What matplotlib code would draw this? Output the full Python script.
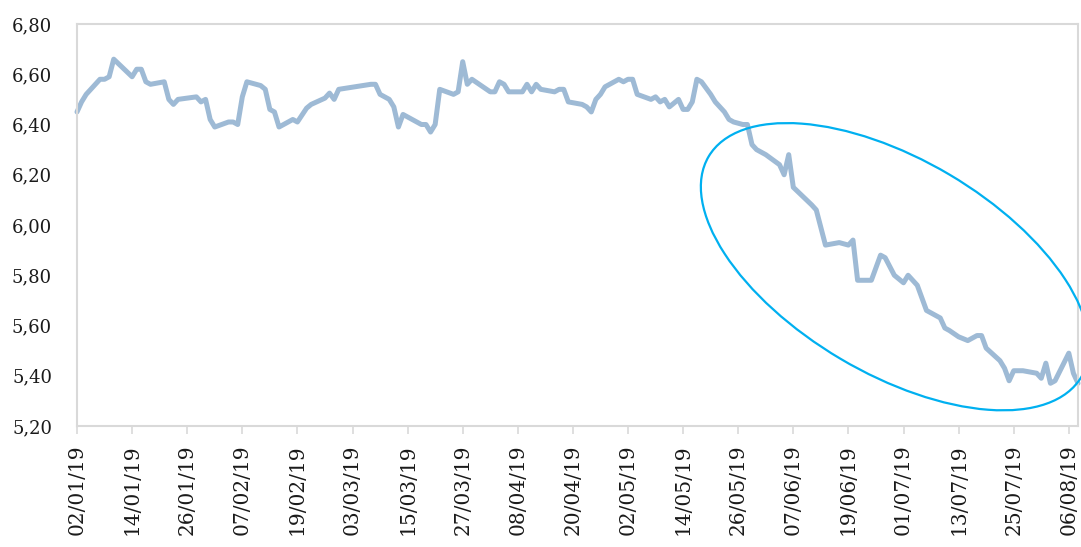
import matplotlib
matplotlib.use('Agg')
import matplotlib.pyplot as plt
import matplotlib.dates as mdates
from matplotlib.patches import Ellipse
import pandas as pd

# series
dates = [
    '2019-01-02', '2019-01-03', '2019-01-04', '2019-01-07', '2019-01-08', '2019-01-09',
    '2019-01-10', '2019-01-14', '2019-01-15', '2019-01-16', '2019-01-17', '2019-01-18',
    '2019-01-21', '2019-01-22', '2019-01-23', '2019-01-24', '2019-01-28', '2019-01-29',
    '2019-01-30', '2019-01-31', '2019-02-01', '2019-02-04', '2019-02-05', '2019-02-06',
    '2019-02-07', '2019-02-08', '2019-02-11', '2019-02-12', '2019-02-13', '2019-02-14',
    '2019-02-15', '2019-02-18', '2019-02-19', '2019-02-21', '2019-02-22', '2019-02-25',
    '2019-02-26', '2019-02-27', '2019-02-28', '2019-03-07', '2019-03-08', '2019-03-09',
    '2019-03-11', '2019-03-12', '2019-03-13', '2019-03-14', '2019-03-18', '2019-03-19',
    '2019-03-20', '2019-03-21', '2019-03-22', '2019-03-25', '2019-03-26', '2019-03-27',
    '2019-03-28', '2019-03-29', '2019-04-02', '2019-04-03', '2019-04-04', '2019-04-05',
    '2019-04-06', '2019-04-09', '2019-04-10', '2019-04-11', '2019-04-12', '2019-04-13',
    '2019-04-16', '2019-04-17', '2019-04-18', '2019-04-19', '2019-04-22', '2019-04-23',
    '2019-04-24', '2019-04-25', '2019-04-26', '2019-04-27', '2019-04-30', '2019-05-01',
    '2019-05-02', '2019-05-03', '2019-05-04', '2019-05-07', '2019-05-08', '2019-05-09',
    '2019-05-10', '2019-05-11', '2019-05-13', '2019-05-14', '2019-05-15', '2019-05-16',
    '2019-05-17', '2019-05-18', '2019-05-20', '2019-05-21', '2019-05-23', '2019-05-24',
    '2019-05-25', '2019-05-27', '2019-05-28', '2019-05-29', '2019-05-30', '2019-06-01',
    '2019-06-04', '2019-06-05', '2019-06-06', '2019-06-07', '2019-06-11', '2019-06-12',
    '2019-06-13', '2019-06-14', '2019-06-17', '2019-06-19', '2019-06-20', '2019-06-21',
    '2019-06-24', '2019-06-26', '2019-06-27', '2019-06-29', '2019-07-01', '2019-07-02',
    '2019-07-04', '2019-07-06', '2019-07-09', '2019-07-10', '2019-07-11', '2019-07-13',
    '2019-07-15', '2019-07-17', '2019-07-18', '2019-07-19', '2019-07-22', '2019-07-23',
    '2019-07-24', '2019-07-25', '2019-07-27', '2019-07-30', '2019-07-31', '2019-08-01',
    '2019-08-02', '2019-08-03', '2019-08-06', '2019-08-07', '2019-08-08',
]
values = [
    6.45, 6.49, 6.52, 6.58, 6.58, 6.59,
    6.66, 6.59, 6.62, 6.62, 6.57, 6.56,
    6.57, 6.50, 6.48, 6.50, 6.51, 6.49,
    6.50, 6.42, 6.39, 6.41, 6.41, 6.40,
    6.51, 6.57, 6.555, 6.54, 6.46, 6.45,
    6.39, 6.42, 6.41, 6.465, 6.48, 6.505,
    6.525, 6.50, 6.54, 6.56, 6.56, 6.52,
    6.50, 6.47, 6.39, 6.44, 6.40, 6.40,
    6.37, 6.40, 6.54, 6.52, 6.53, 6.65,
    6.56, 6.58, 6.53, 6.53, 6.57, 6.56,
    6.53, 6.53, 6.56, 6.53, 6.56, 6.54,
    6.53, 6.54, 6.54, 6.49, 6.48, 6.47,
    6.45, 6.50, 6.52, 6.55, 6.58, 6.57,
    6.58, 6.58, 6.52, 6.50, 6.51, 6.49,
    6.50, 6.47, 6.50, 6.46, 6.46, 6.49,
    6.58, 6.57, 6.52, 6.49, 6.45, 6.42,
    6.41, 6.40, 6.40, 6.32, 6.30, 6.28,
    6.24, 6.20, 6.28, 6.15, 6.08, 6.06,
    5.99, 5.92, 5.93, 5.92, 5.94, 5.78,
    5.78, 5.88, 5.87, 5.80, 5.77, 5.80,
    5.76, 5.66, 5.63, 5.59, 5.58, 5.555,
    5.54, 5.56, 5.56, 5.51, 5.46, 5.43,
    5.38, 5.42, 5.42, 5.41, 5.39, 5.45,
    5.37, 5.38, 5.49, 5.41, 5.37,
]
y_ticks = [5.20, 5.40, 5.60, 5.80, 6.00, 6.20, 6.40, 6.60, 6.80]

x = pd.to_datetime(dates)
grid_col = '#D9D9D9'

fig = plt.figure(figsize=(10.81, 5.47), dpi=100)
ax = fig.add_axes([77 / 1081, 121 / 547, 1001 / 1081, 402 / 547])

ax.plot(x, values, color='#9EBAD5', lw=3.6, solid_joinstyle='round',
        solid_capstyle='round', clip_on=False)

ax.set_xlim(pd.Timestamp('2019-01-02'), pd.Timestamp('2019-08-08'))
ax.set_ylim(5.20, 6.80)
ax.set_xticks(pd.date_range('2019-01-02', '2019-08-08', freq='12D'))
ax.xaxis.set_major_formatter(mdates.DateFormatter('%d/%m/%y'))
ax.set_yticks(y_ticks)
ax.set_yticklabels([('%.2f' % v).replace('.', ',') for v in y_ticks])

for lab in ax.get_xticklabels():
    lab.set_rotation(90)
    lab.set_fontfamily('DejaVu Serif')
    lab.set_fontsize(14.5)
for lab in ax.get_yticklabels():
    lab.set_fontfamily('DejaVu Serif')
    lab.set_fontsize(13)

ax.tick_params(axis='x', length=6, width=1.2, color=grid_col, pad=7, labelcolor='#1a1a1a')
ax.tick_params(axis='y', length=0, pad=18, labelcolor='#1a1a1a')
for s in ax.spines.values():
    s.set_color(grid_col)
    s.set_linewidth(1.5)

# highlight ellipse drawn in figure pixel space
ell = Ellipse((8.95, (547 - 266.7) / 100), 4.33, 2.14, angle=-30.6,
              transform=fig.dpi_scale_trans, fill=False, edgecolor='#00B0F0', lw=1.6)
fig.patches.append(ell)

fig.savefig('out.png', dpi=100)
